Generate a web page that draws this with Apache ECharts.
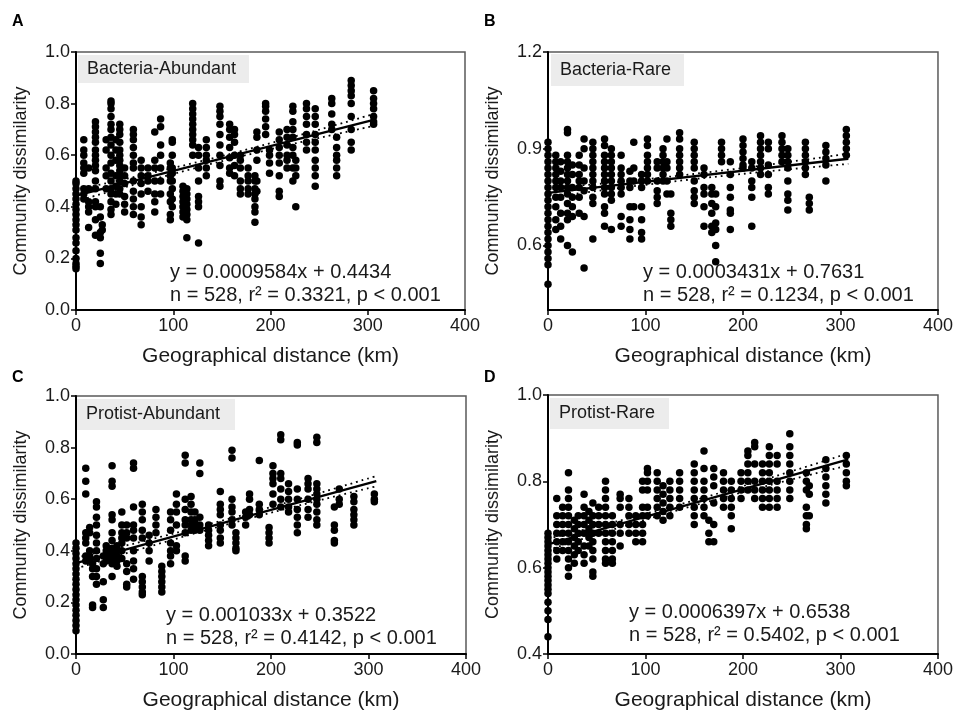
<!DOCTYPE html>
<html>
<head>
<meta charset="utf-8">
<script src="https://cdn.jsdelivr.net/npm/echarts@6/dist/echarts.min.js"></script>
<style>
  html, body { margin: 0; padding: 0; background: #fff; }
  #chart { width: 956px; height: 716px; }
</style>
</head>
<body>
<div id="chart"></div>
<script>
// distances (km) of each vertical column of points, and the dissimilarity values in it
const distA = [0, 8, 13, 20, 25, 27, 31, 36, 41, 45, 50, 59, 67, 74, 81, 87, 97, 99, 110, 114, 120, 126, 134, 148, 158, 163, 169, 177, 184, 186, 195, 199, 209, 217, 223, 226, 237, 246, 263, 268, 283, 306];
const dissA = [
  [0.16, 0.17, 0.18, 0.2, 0.23, 0.26, 0.28, 0.31, 0.33, 0.35, 0.37, 0.39, 0.41, 0.43, 0.45, 0.47, 0.49, 0.5],
  [0.66, 0.62, 0.6, 0.57, 0.55, 0.53, 0.47, 0.45, 0.43],
  [0.55, 0.47, 0.42, 0.4, 0.38, 0.32],
  [0.73, 0.71, 0.69, 0.67, 0.65, 0.62, 0.6, 0.58, 0.56, 0.54, 0.5, 0.47, 0.42, 0.4, 0.35, 0.29],
  [0.4, 0.36, 0.3, 0.28, 0.22, 0.18],
  [0.33, 0.31],
  [0.66, 0.62, 0.55, 0.52, 0.47],
  [0.81, 0.8, 0.78, 0.75, 0.72, 0.7, 0.67, 0.64, 0.6, 0.57, 0.53, 0.5, 0.47, 0.45, 0.42, 0.39, 0.37],
  [0.66, 0.62, 0.58, 0.52, 0.48, 0.45, 0.41],
  [0.72, 0.7, 0.68, 0.65, 0.62, 0.6, 0.58, 0.56, 0.54, 0.52, 0.5, 0.47, 0.45],
  [0.55, 0.52, 0.49, 0.44, 0.41, 0.38],
  [0.7, 0.68, 0.66, 0.63, 0.6, 0.57, 0.55, 0.5, 0.46, 0.43, 0.4, 0.37],
  [0.58, 0.55, 0.52, 0.49, 0.45, 0.4, 0.36, 0.33],
  [0.55, 0.52, 0.5, 0.46],
  [0.69, 0.58, 0.55, 0.5, 0.45, 0.42, 0.38],
  [0.74, 0.71, 0.64, 0.6, 0.55, 0.5, 0.45],
  [0.57, 0.55, 0.52, 0.5, 0.45, 0.42, 0.37, 0.35],
  [0.66, 0.65, 0.6, 0.55, 0.53, 0.5, 0.47, 0.43, 0.4],
  [0.48, 0.46, 0.44, 0.42, 0.4, 0.38, 0.36],
  [0.47, 0.45, 0.43, 0.41, 0.39, 0.37, 0.35, 0.28],
  [0.8, 0.78, 0.76, 0.74, 0.72, 0.7, 0.68, 0.66, 0.64, 0.6],
  [0.63, 0.6, 0.55, 0.5, 0.44, 0.42, 0.4, 0.26],
  [0.66, 0.63, 0.6, 0.58, 0.55, 0.52],
  [0.79, 0.77, 0.75, 0.72, 0.68, 0.64, 0.6, 0.56, 0.5, 0.48],
  [0.72, 0.7, 0.67, 0.63, 0.59, 0.55, 0.53],
  [0.7, 0.68, 0.65, 0.6, 0.56, 0.52],
  [0.6, 0.58, 0.55, 0.5, 0.47, 0.45],
  [0.55, 0.52, 0.5, 0.47, 0.45],
  [0.52, 0.5, 0.47, 0.45, 0.43, 0.4, 0.38, 0.34],
  [0.69, 0.67, 0.62, 0.58, 0.5, 0.46],
  [0.8, 0.79, 0.77, 0.74, 0.71, 0.68],
  [0.62, 0.6, 0.57, 0.53],
  [0.69, 0.66, 0.63, 0.6, 0.57, 0.52, 0.46, 0.44],
  [0.7, 0.67, 0.64, 0.6, 0.58, 0.55],
  [0.79, 0.77, 0.73, 0.7, 0.67, 0.63, 0.6, 0.55, 0.5],
  [0.58, 0.55, 0.52, 0.4],
  [0.8, 0.78, 0.75, 0.72, 0.68, 0.65, 0.62],
  [0.78, 0.75, 0.72, 0.68, 0.65, 0.62, 0.58, 0.55, 0.52, 0.48],
  [0.82, 0.8, 0.76, 0.72, 0.7],
  [0.67, 0.63, 0.6, 0.58, 0.55, 0.52],
  [0.89, 0.87, 0.85, 0.83, 0.8, 0.75, 0.7, 0.65, 0.62],
  [0.85, 0.82, 0.8, 0.78, 0.75, 0.73, 0.72]
];

const distB = [0, 8, 13, 20, 25, 32, 37, 46, 58, 65, 75, 84, 88, 96, 102, 112, 118, 122, 126, 135, 150, 160, 168, 172, 178, 187, 200, 209, 218, 226, 240, 246, 264, 268, 285, 306];
const dissB = [
  [0.92, 0.9, 0.88, 0.86, 0.84, 0.82, 0.8, 0.78, 0.76, 0.74, 0.72, 0.7, 0.68, 0.66, 0.64, 0.62, 0.6, 0.58, 0.56, 0.54, 0.48],
  [0.88, 0.86, 0.84, 0.82, 0.8, 0.78, 0.75, 0.72, 0.68, 0.65],
  [0.86, 0.83, 0.8, 0.78, 0.75, 0.7, 0.66, 0.62],
  [0.96, 0.95, 0.88, 0.86, 0.84, 0.82, 0.8, 0.78, 0.76, 0.73, 0.7, 0.68, 0.6],
  [0.85, 0.82, 0.78, 0.75, 0.72, 0.69, 0.58],
  [0.88, 0.85, 0.82, 0.8, 0.78, 0.75, 0.7],
  [0.93, 0.9, 0.84, 0.8, 0.77, 0.69, 0.53],
  [0.92, 0.9, 0.88, 0.86, 0.84, 0.82, 0.8, 0.78, 0.75, 0.73, 0.62],
  [0.93, 0.91, 0.88, 0.86, 0.84, 0.82, 0.8, 0.78, 0.76, 0.72, 0.7, 0.66],
  [0.9, 0.88, 0.86, 0.84, 0.82, 0.8, 0.78, 0.76, 0.74, 0.65],
  [0.88, 0.84, 0.82, 0.8, 0.78, 0.76, 0.69, 0.66],
  [0.83, 0.8, 0.78, 0.72, 0.68, 0.65, 0.62],
  [0.92, 0.84, 0.8, 0.72],
  [0.82, 0.8, 0.78, 0.72, 0.68, 0.64, 0.62],
  [0.93, 0.91, 0.88, 0.86, 0.84, 0.82, 0.8],
  [0.86, 0.84, 0.8, 0.77, 0.75, 0.73],
  [0.9, 0.88, 0.86, 0.84, 0.82, 0.8],
  [0.93, 0.86, 0.84, 0.8, 0.76],
  [0.76, 0.7, 0.68, 0.66],
  [0.95, 0.93, 0.9, 0.88, 0.86, 0.84, 0.82],
  [0.92, 0.9, 0.88, 0.86, 0.84, 0.8, 0.77, 0.75, 0.73],
  [0.84, 0.82, 0.78, 0.76, 0.72, 0.66],
  [0.78, 0.76, 0.73, 0.7, 0.66, 0.64],
  [0.76, 0.72, 0.67, 0.65, 0.6, 0.55],
  [0.92, 0.9, 0.88, 0.86],
  [0.86, 0.82, 0.78, 0.75, 0.71, 0.7, 0.65],
  [0.93, 0.91, 0.89, 0.87, 0.85, 0.84],
  [0.86, 0.84, 0.8, 0.78, 0.75, 0.66],
  [0.94, 0.92, 0.9, 0.88, 0.86, 0.84, 0.82],
  [0.92, 0.9, 0.85, 0.82, 0.78, 0.76],
  [0.94, 0.92, 0.9, 0.88, 0.86],
  [0.9, 0.88, 0.86, 0.84, 0.8, 0.76, 0.74, 0.71],
  [0.92, 0.9, 0.88, 0.86, 0.84, 0.82],
  [0.75, 0.73, 0.71],
  [0.91, 0.89, 0.87, 0.85, 0.8],
  [0.96, 0.94, 0.92, 0.9, 0.88]
];

const distC = [0, 10, 14, 17, 21, 28, 31, 37, 42, 47, 52, 59, 68, 75, 82, 88, 97, 103, 112, 118, 122, 127, 136, 148, 160, 164, 174, 178, 188, 198, 202, 210, 218, 227, 238, 247, 265, 270, 285, 306];
const dissC = [
  [0.43, 0.41, 0.39, 0.37, 0.35, 0.33, 0.31, 0.29, 0.27, 0.25, 0.23, 0.21, 0.19, 0.17, 0.15, 0.13, 0.11, 0.09],
  [0.72, 0.67, 0.62, 0.47, 0.45, 0.43, 0.38, 0.36],
  [0.49, 0.47, 0.4, 0.38, 0.36],
  [0.35, 0.33, 0.3, 0.19, 0.18],
  [0.59, 0.57, 0.53, 0.5, 0.46, 0.43, 0.4, 0.37, 0.33, 0.3, 0.27],
  [0.38, 0.35, 0.28, 0.21, 0.18],
  [0.42, 0.4, 0.38, 0.36],
  [0.73, 0.67, 0.65, 0.54, 0.52, 0.47, 0.44, 0.41, 0.39, 0.37, 0.35, 0.3],
  [0.42, 0.4, 0.38, 0.36, 0.34],
  [0.55, 0.5, 0.47, 0.45, 0.43, 0.4, 0.37],
  [0.5, 0.47, 0.45, 0.35, 0.32, 0.27, 0.26],
  [0.74, 0.72, 0.57, 0.5, 0.48, 0.45, 0.4, 0.36, 0.33, 0.29],
  [0.58, 0.55, 0.52, 0.48, 0.45, 0.3, 0.28, 0.26, 0.24, 0.23],
  [0.46, 0.43, 0.4, 0.36],
  [0.56, 0.53, 0.5, 0.47],
  [0.34, 0.32, 0.3, 0.28, 0.26, 0.24],
  [0.55, 0.52, 0.48, 0.43, 0.4, 0.38, 0.35],
  [0.62, 0.58, 0.55, 0.5, 0.42, 0.4],
  [0.77, 0.74, 0.6, 0.56, 0.52, 0.5, 0.47, 0.38, 0.36],
  [0.61, 0.58, 0.55, 0.52, 0.5, 0.48],
  [0.55, 0.52, 0.5, 0.48],
  [0.74, 0.7, 0.53, 0.5, 0.48],
  [0.5, 0.48, 0.46, 0.44, 0.42],
  [0.63, 0.58, 0.56, 0.54, 0.5, 0.48, 0.45, 0.43],
  [0.79, 0.76, 0.6, 0.57, 0.55, 0.52, 0.5],
  [0.47, 0.45, 0.43, 0.41, 0.4],
  [0.55, 0.53, 0.5],
  [0.62, 0.6, 0.56, 0.54],
  [0.75, 0.58, 0.56, 0.54],
  [0.49, 0.47, 0.45, 0.43],
  [0.73, 0.7, 0.68, 0.66, 0.62, 0.58],
  [0.85, 0.83, 0.7, 0.68, 0.64, 0.6, 0.57],
  [0.66, 0.63, 0.6, 0.57, 0.55],
  [0.82, 0.81, 0.64, 0.6, 0.56, 0.53, 0.5, 0.47],
  [0.68, 0.66, 0.64, 0.6, 0.56, 0.53],
  [0.84, 0.82, 0.66, 0.64, 0.62, 0.6, 0.58, 0.55, 0.52, 0.5],
  [0.57, 0.5, 0.48, 0.44, 0.43],
  [0.64, 0.6, 0.58],
  [0.61, 0.59, 0.56, 0.54, 0.52, 0.5],
  [0.62, 0.6, 0.59]
];

const distD = [0, 9, 15, 21, 27, 31, 37, 42, 46, 52, 59, 66, 74, 83, 90, 97, 102, 112, 118, 125, 135, 150, 160, 165, 170, 180, 188, 198, 205, 212, 220, 227, 235, 248, 265, 268, 285, 306];
const dissD = [
  [0.68, 0.67, 0.66, 0.65, 0.64, 0.63, 0.62, 0.61, 0.6, 0.59, 0.58, 0.57, 0.56, 0.55, 0.54, 0.52, 0.5, 0.48, 0.44],
  [0.76, 0.72, 0.7, 0.68, 0.66, 0.64, 0.62],
  [0.74, 0.72, 0.7, 0.68, 0.66, 0.64],
  [0.82, 0.78, 0.76, 0.74, 0.72, 0.7, 0.68, 0.66, 0.64, 0.62, 0.6, 0.58],
  [0.71, 0.69, 0.67, 0.65, 0.63, 0.61],
  [0.72, 0.7, 0.68, 0.66, 0.64],
  [0.77, 0.74, 0.72, 0.7, 0.68, 0.65, 0.63, 0.61],
  [0.73, 0.71, 0.69, 0.67, 0.65],
  [0.75, 0.72, 0.7, 0.68, 0.66, 0.64, 0.62, 0.59, 0.58],
  [0.74, 0.72, 0.7, 0.68],
  [0.8, 0.78, 0.76, 0.74, 0.72, 0.7, 0.68, 0.66, 0.64, 0.62, 0.61],
  [0.72, 0.7, 0.68, 0.66, 0.64, 0.62, 0.61],
  [0.77, 0.76, 0.74, 0.7, 0.68, 0.65],
  [0.76, 0.74, 0.72, 0.7, 0.68],
  [0.72, 0.7, 0.68, 0.66],
  [0.8, 0.78, 0.74, 0.72, 0.7, 0.68, 0.66],
  [0.83, 0.82, 0.8, 0.78, 0.74, 0.72],
  [0.82, 0.8, 0.78, 0.76, 0.74, 0.72],
  [0.79, 0.77, 0.75, 0.73, 0.71],
  [0.8, 0.78, 0.76, 0.74, 0.72],
  [0.82, 0.8, 0.78, 0.76, 0.74],
  [0.84, 0.82, 0.8, 0.78, 0.76, 0.74, 0.72, 0.7],
  [0.87, 0.83, 0.8, 0.78, 0.76, 0.74, 0.72],
  [0.71, 0.68, 0.66],
  [0.83, 0.81, 0.79, 0.75, 0.7, 0.66],
  [0.82, 0.8, 0.78, 0.76, 0.74],
  [0.8, 0.78, 0.76, 0.74, 0.72, 0.69],
  [0.82, 0.8, 0.78, 0.76],
  [0.87, 0.86, 0.84, 0.82, 0.8, 0.78],
  [0.89, 0.88, 0.84, 0.8, 0.78, 0.76],
  [0.84, 0.82, 0.8, 0.78, 0.76, 0.74],
  [0.88, 0.86, 0.84, 0.82, 0.8, 0.78, 0.76, 0.74],
  [0.86, 0.84, 0.8, 0.78, 0.76, 0.74],
  [0.91, 0.88, 0.86, 0.84, 0.82, 0.8, 0.78, 0.76],
  [0.82, 0.8, 0.78, 0.74, 0.72, 0.7, 0.69],
  [0.79, 0.77, 0.72],
  [0.85, 0.83, 0.81, 0.79, 0.77, 0.75],
  [0.86, 0.84, 0.82, 0.8, 0.79]
];

// fitted lines and 95% bands, read at start / middle / end
const fitA = [[0, 0.4434], [308, 0.7386]];
const upA = [[0, 0.466], [150, 0.597], [308, 0.762]];
const loA = [[0, 0.421], [150, 0.577], [308, 0.715]];
const fitB = [[0, 0.7631], [308, 0.8688]];
const upB = [[0, 0.777], [150, 0.822], [308, 0.885]];
const loB = [[0, 0.749], [150, 0.806], [308, 0.853]];
const fitC = [[0, 0.3522], [308, 0.6704]];
const upC = [[0, 0.373], [150, 0.517], [308, 0.690]];
const loC = [[0, 0.331], [150, 0.497], [308, 0.650]];
const fitD = [[0, 0.6538], [308, 0.8508]];
const upD = [[0, 0.667], [150, 0.756], [308, 0.865]];
const loD = [[0, 0.641], [150, 0.744], [308, 0.837]];

const panelNames = ['Bacteria-Abundant', 'Bacteria-Rare', 'Protist-Abundant', 'Protist-Rare'];
const panelLetters = ['A', 'B', 'C', 'D'];
const equations = ['y = 0.0009584x + 0.4434', 'y = 0.0003431x + 0.7631', 'y = 0.001033x + 0.3522', 'y = 0.0006397x + 0.6538'];
const stats = ['n = 528, r² = 0.3321, p < 0.001', 'n = 528, r² = 0.1234, p < 0.001', 'n = 528, r² = 0.4142, p < 0.001', 'n = 528, r² = 0.5402, p < 0.001'];
const xTicks = [0, 100, 200, 300, 400];
const yTicksA = [0, 0.2, 0.4, 0.6, 0.8, 1.0];
const yTicksB = [0.6, 0.9, 1.2];
const yTicksC = [0, 0.2, 0.4, 0.6, 0.8, 1.0];
const yTicksD = [0.4, 0.6, 0.8, 1.0];

const FONT = '"Liberation Sans", Arial, sans-serif';
const INK = '#1a1a1a';

const toPairs = (dist, diss) => {
  const out = [];
  dist.forEach((d, i) => {
    diss[i].forEach((v) => out.push([d, v]));
  });
  return out;
};

const layout = [
  { left: 76, top: 52, width: 389, height: 258, yMin: 0, yMax: 1.0, ticks: yTicksA, box: [78, 55, 171, 28], eq: [170, 272] },
  { left: 548, top: 52, width: 391, height: 258, yMin: 0.4, yMax: 1.2, ticks: yTicksB, box: [551, 54, 133, 32], eq: [643, 272] },
  { left: 76, top: 396, width: 390, height: 258, yMin: 0, yMax: 1.0, ticks: yTicksC, box: [77, 399, 158, 31], eq: [166, 615] },
  { left: 548, top: 395, width: 390, height: 259, yMin: 0.4, yMax: 1.0, ticks: yTicksD, box: [550, 398, 119, 31], eq: [629, 612] }
];
const letterPos = [[12, 22], [484, 22], [12, 378], [484, 378]];

const scatterData = [toPairs(distA, dissA), toPairs(distB, dissB), toPairs(distC, dissC), toPairs(distD, dissD)];
const fits = [fitA, fitB, fitC, fitD];
const ups = [upA, upB, upC, upD];
const los = [loA, loB, loC, loD];

const grids = [], xAxes = [], yAxes = [], series = [], graphics = [];

layout.forEach((p, i) => {
  grids.push({
    left: p.left, top: p.top, width: p.width, height: p.height,
    show: true, borderColor: '#5a5a5a', borderWidth: 1.5, backgroundColor: 'transparent'
  });
  xAxes.push({
    gridIndex: i, type: 'value', min: 0, max: 400, interval: 100,
    name: 'Geographical distance (km)', nameLocation: 'middle', nameGap: 36,
    nameTextStyle: { fontFamily: FONT, fontSize: 21, color: INK },
    axisLine: { show: true, onZero: false, lineStyle: { color: '#000', width: 2 } },
    axisTick: { show: true, inside: false, length: 5, lineStyle: { color: '#000', width: 1.5 }, customValues: xTicks },
    axisLabel: { fontFamily: FONT, fontSize: 18, color: INK, margin: 7, customValues: xTicks },
    splitLine: { show: false }
  });
  yAxes.push({
    gridIndex: i, type: 'value', min: p.yMin, max: p.yMax,
    name: 'Community dissimilarity', nameLocation: 'middle', nameGap: 46,
    nameTextStyle: { fontFamily: FONT, fontSize: 18, color: INK },
    axisLine: { show: true, onZero: false, lineStyle: { color: '#000', width: 2 } },
    axisTick: { show: true, inside: false, length: 5, lineStyle: { color: '#000', width: 1.5 }, customValues: p.ticks },
    axisLabel: { fontFamily: FONT, fontSize: 18, color: INK, margin: 6, customValues: p.ticks, formatter: (v) => v.toFixed(1) },
    splitLine: { show: false }
  });
  series.push({
    type: 'scatter', xAxisIndex: i, yAxisIndex: i, data: scatterData[i],
    symbol: 'circle', symbolSize: 7.5, itemStyle: { color: '#000', opacity: 1 }, silent: true, z: 2
  });
  series.push({
    type: 'line', xAxisIndex: i, yAxisIndex: i, data: fits[i], showSymbol: false,
    lineStyle: { color: '#000', width: 2.4 }, silent: true, z: 4
  });
  [ups[i], los[i]].forEach((band) => {
    series.push({
      type: 'line', xAxisIndex: i, yAxisIndex: i, data: band, showSymbol: false, smooth: true,
      lineStyle: { color: '#000', width: 1.8, type: [1.8, 4] }, silent: true, z: 3
    });
  });
  graphics.push({
    type: 'rect', shape: { x: p.box[0], y: p.box[1], width: p.box[2], height: p.box[3] },
    style: { fill: '#ececec' }, z: 10
  });
  graphics.push({
    type: 'text', z: 11,
    style: { text: panelNames[i], x: p.box[0] + 9, y: p.box[1] + p.box[3] / 2, textVerticalAlign: 'middle', font: '18px ' + FONT, fill: INK }
  });
  graphics.push({
    type: 'text', z: 11,
    style: { text: equations[i], x: p.eq[0], y: p.eq[1], textVerticalAlign: 'middle', font: '20px ' + FONT, fill: INK }
  });
  graphics.push({
    type: 'text', z: 11,
    style: { text: stats[i], x: p.eq[0], y: p.eq[1] + 23, textVerticalAlign: 'middle', font: '20px ' + FONT, fill: INK }
  });
  graphics.push({
    type: 'text', z: 11,
    style: { text: panelLetters[i], x: letterPos[i][0], y: letterPos[i][1], textVerticalAlign: 'middle', font: 'bold 16px ' + FONT, fill: '#000' }
  });
});

const chart = echarts.init(document.getElementById('chart'));
chart.setOption({
  animation: false,
  backgroundColor: '#fff',
  grid: grids,
  xAxis: xAxes,
  yAxis: yAxes,
  series: series,
  graphic: graphics
});
</script>
</body>
</html>
